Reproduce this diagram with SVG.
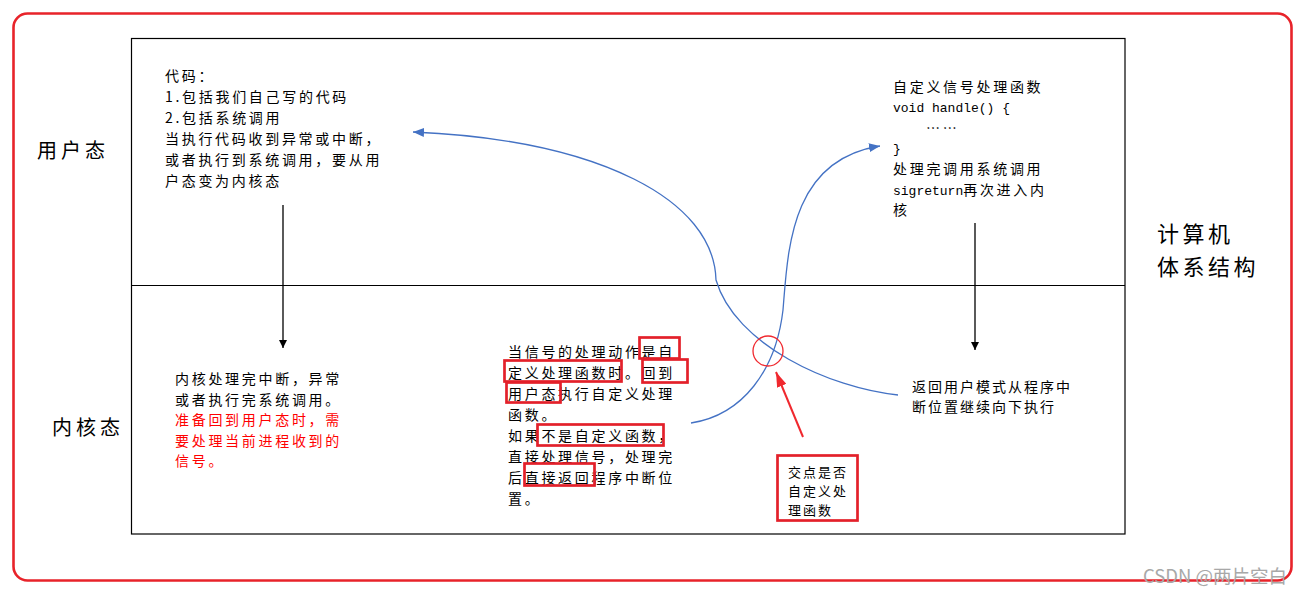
<svg xmlns="http://www.w3.org/2000/svg" width="1308" height="592" viewBox="0 0 1308 592">
<style>
.t{font-family:"Noto Sans CJK SC","Noto Sans",sans-serif;font-size:14px;letter-spacing:2.7px;fill:#000}
.m{font-family:"Liberation Mono","DejaVu Sans Mono",monospace;font-size:13px;letter-spacing:0}
.r{fill:#ff0000}
.lab{font-family:"Noto Sans CJK SC",sans-serif;font-size:20px;letter-spacing:4px;fill:#000}
.big{font-family:"Noto Sans CJK SC",sans-serif;font-size:22px;letter-spacing:3.5px;fill:#000}
.box{fill:none;stroke:#e3202a;stroke-width:2.7}
.blue{fill:none;stroke:#4472c4;stroke-width:1.3}
.blk{stroke:#000;stroke-width:1.3;fill:none}
</style>
<defs>
<marker id="ab" markerUnits="userSpaceOnUse" markerWidth="11" markerHeight="9" refX="11" refY="4.5" orient="auto"><path d="M0,0 L11,4.5 L0,9 z" fill="#4472c4"/></marker>
<marker id="ak" markerUnits="userSpaceOnUse" markerWidth="8" markerHeight="8" refX="8" refY="4" orient="auto"><path d="M0,0 L8,4 L0,8 z" fill="#000"/></marker>
<marker id="ar" markerUnits="userSpaceOnUse" markerWidth="15" markerHeight="10" refX="15" refY="5" orient="auto"><path d="M0,0 L15,5 L0,10 z" fill="#f0282e"/></marker>
</defs>
<rect width="1308" height="592" fill="#fff"/>
<g id="frame">
<rect x="13.5" y="13.5" width="1278" height="567" rx="14" fill="none" stroke="#e8232a" stroke-width="2.6"/>
<rect x="131.5" y="38.5" width="993.5" height="495.5" fill="none" stroke="#000" stroke-width="1.2"/>
<line x1="131.5" y1="285.5" x2="1125" y2="285.5" stroke="#000" stroke-width="1.2"/>
</g>
<g id="labels">
<text class="lab" x="37" y="158">用户态</text>
<text class="lab" x="52" y="435">内核态</text>
<text class="big" x="1157" y="242">计算机</text>
<text class="big" x="1157" y="275">体系结构</text>
</g>
<g id="user-code">
<text class="t" x="165" y="81">代码：</text>
<text class="t" x="165" y="102">1.包括我们自己写的代码</text>
<text class="t" x="165" y="123">2.包括系统调用</text>
<text class="t" x="165" y="144">当执行代码收到异常或中断，</text>
<text class="t" x="165" y="165">或者执行到系统调用，要从用</text>
<text class="t" x="165" y="186">户态变为内核态</text>
</g>
<g id="user-handler">
<text class="t" x="893" y="92">自定义信号处理函数</text>
<text class="t m" x="893" y="112">void handle() {</text>
<text class="t" x="926" y="133">……</text>
<text class="t m" x="893" y="153">}</text>
<text class="t" x="893" y="174">处理完调用系统调用</text>
<text class="t" x="893" y="194.5"><tspan class="m">sigreturn</tspan>再次进入内</text>
<text class="t" x="893" y="215">核</text>
</g>
<g id="kernel-left">
<text class="t" x="175" y="384">内核处理完中断，异常</text>
<text class="t" x="175" y="404.5">或者执行完系统调用。</text>
<text class="t r" x="175" y="425">准备回到用户态时，需</text>
<text class="t r" x="175" y="445.5">要处理当前进程收到的</text>
<text class="t r" x="175" y="466">信号。</text>
</g>
<g id="kernel-mid">
<text class="t" x="508" y="356.5">当信号的处理动作是自</text>
<text class="t" x="508" y="377.5">定义处理函数时。回到</text>
<text class="t" x="508" y="398.5">用户态执行自定义处理</text>
<text class="t" x="508" y="419.5">函数。</text>
<text class="t" x="508" y="440.5">如果不是自定义函数，</text>
<text class="t" x="508" y="461.5">直接处理信号，处理完</text>
<text class="t" x="508" y="482.5">后直接返回程序中断位</text>
<text class="t" x="508" y="503.5">置。</text>
<rect class="box" x="639.5" y="337.5" width="40" height="21"/>
<rect class="box" x="504.5" y="360.5" width="117" height="21"/>
<rect class="box" x="642.5" y="359.5" width="45" height="23"/>
<rect class="box" x="506.5" y="382.5" width="54" height="20"/>
<rect class="box" x="537.5" y="424.5" width="126" height="21"/>
<rect class="box" x="524.5" y="463.5" width="70" height="22"/>
</g>
<g id="kernel-right">
<text class="t" x="912" y="392" style="letter-spacing:2px">返回用户模式从程序中</text>
<text class="t" x="912" y="412" style="letter-spacing:2px">断位置继续向下执行</text>
</g>
<g id="note">
<rect class="box" x="777.5" y="455.5" width="80" height="65"/>
<text class="t" x="788" y="477" style="font-size:13px;letter-spacing:2px">交点是否</text>
<text class="t" x="788" y="496" style="font-size:13px;letter-spacing:2px">自定义处</text>
<text class="t" x="788" y="515" style="font-size:13px;letter-spacing:2px">理函数</text>
</g>
<g id="connectors">
<line class="blk" x1="283" y1="205" x2="283" y2="348" marker-end="url(#ak)"/>
<line class="blk" x1="975" y1="223" x2="975" y2="350" marker-end="url(#ak)"/>
<path class="blue" d="M898,395 C830,388 735,345 716,280 C714,200 600,140 413,132" marker-end="url(#ab)"/>
<path class="blue" d="M691,423 C743,415 776,370 783,310 C788,250 790,160 880,146" marker-end="url(#ab)"/>
<circle cx="768" cy="351" r="15" fill="none" stroke="#f0282e" stroke-width="1.3"/>
<line x1="803" y1="437" x2="776" y2="372" stroke="#f0282e" stroke-width="2" marker-end="url(#ar)"/>
</g>
<text x="1143" y="583" font-family="Noto Sans CJK SC, sans-serif" font-size="18.5" fill="#a8a8a8">CSDN @两片空白</text>
</svg>
